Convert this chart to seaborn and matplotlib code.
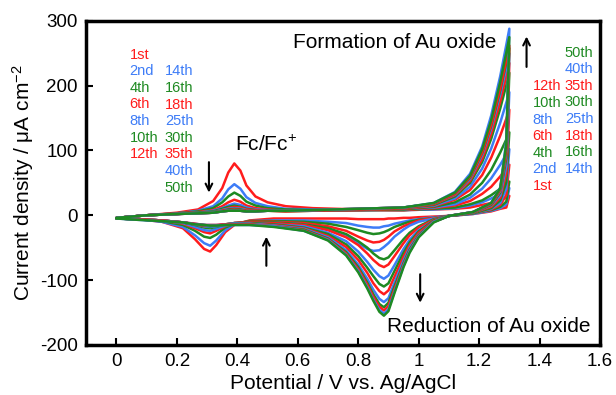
import pandas as pd
import seaborn as sns
import matplotlib.pyplot as plt

# potential grids (V vs. Ag/AgCl): anodic sweep 0 -> 1.3 V, cathodic sweep 1.3 -> 0 V
e_fwd = [0.00, 0.10, 0.20, 0.27, 0.32, 0.35, 0.37, 0.39, 0.41, 0.43, 0.46, 0.50,
         0.56, 0.65, 0.80, 0.95, 1.05, 1.12, 1.17, 1.21, 1.24, 1.27, 1.29, 1.30]
e_rev = [1.30, 1.29, 1.27, 1.24, 1.18, 1.10, 1.05, 1.00, 0.97, 0.95, 0.92, 0.90,
         0.885, 0.87, 0.85, 0.83, 0.80, 0.76, 0.70, 0.62, 0.52, 0.44, 0.39, 0.36,
         0.33, 0.31, 0.29, 0.26, 0.22, 0.15, 0.07, 0.00]

cycles = ["1st", "2nd", "4th", "6th", "8th", "10th", "12th", "14th",
          "16th", "18th", "25th", "30th", "35th", "40th", "50th"]

# current density (uA cm-2)
fwd_1st = [-4, 0, 4, 9, 22, 42, 66, 80, 69, 46, 29, 20, 14, 11, 9, 8, 9, 10, 12, 16, 19, 24, 28, 30]
fwd_2nd = [-4, 0, 3, 7, 14, 26, 40, 48, 41, 28, 19, 14, 10, 9, 8, 8, 9, 11, 15, 20, 26, 33, 39, 42]
fwd_4th = [-4, 0, 3, 6, 11, 20, 29, 35, 30, 21, 15, 11, 9, 8, 8, 8, 10, 12, 17, 23, 31, 41, 48, 52]
fwd_6th = [-4, 0, 3, 5, 8, 14, 20, 24, 21, 15, 11, 9, 7, 7, 8, 8, 11, 15, 22, 33, 44, 60, 72, 78]
fwd_8th = [-4, 0, 2, 4, 7, 11, 15, 18, 16, 12, 9, 8, 7, 7, 8, 9, 12, 17, 27, 41, 57, 78, 94, 102]
fwd_10th = [-4, 0, 2, 4, 6, 10, 13, 15, 13, 10, 8, 7, 6, 7, 8, 9, 13, 20, 32, 50, 70, 97, 117, 128]
fwd_12th = [-4, 0, 2, 4, 5, 8, 11, 13, 12, 9, 8, 7, 6, 7, 8, 10, 14, 24, 39, 62, 89, 123, 149, 163]
fwd_14th = [-4, 0, 2, 4, 5, 8, 10, 11, 10, 8, 7, 7, 7, 7, 9, 11, 15, 26, 44, 72, 103, 143, 174, 190]
fwd_16th = [-4, 0, 2, 4, 5, 7, 9, 10, 9, 7, 7, 7, 7, 7, 9, 11, 16, 29, 50, 82, 118, 165, 201, 220]
fwd_18th = [-4, 0, 2, 3, 4, 7, 8, 9, 8, 7, 7, 7, 7, 7, 9, 11, 17, 31, 53, 87, 126, 176, 215, 235]
fwd_25th = [-4, 0, 2, 3, 4, 6, 7, 8, 7, 6, 6, 7, 7, 8, 10, 12, 18, 32, 56, 93, 134, 187, 228, 250]
fwd_30th = [-4, 0, 2, 3, 4, 6, 7, 8, 7, 6, 6, 7, 7, 8, 10, 12, 18, 33, 58, 96, 138, 193, 236, 258]
fwd_35th = [-4, 0, 2, 3, 4, 6, 7, 7, 7, 6, 6, 7, 7, 8, 10, 12, 18, 33, 59, 97, 140, 196, 239, 262]
fwd_40th = [-4, 0, 2, 3, 4, 6, 7, 7, 7, 6, 6, 7, 7, 8, 10, 12, 19, 36, 64, 106, 154, 215, 263, 288]
fwd_50th = [-4, 0, 2, 3, 4, 6, 7, 7, 7, 6, 6, 7, 7, 8, 10, 12, 19, 35, 61, 102, 147, 206, 251, 275]

rev_1st = [30, 12, 10, 6, 2, -1, -2, -3, -4, -4, -5, -5, -6, -6, -6, -6, -6, -5, -5, -5, -5,
           -8, -15, -26, -46, -56, -52, -37, -20, -10, -6, -4]
rev_2nd = [42, 17, 11, 7, 2, -1, -3, -6, -8, -10, -13, -16, -17, -19, -19, -18, -16, -12, -10, -8, -8,
           -9, -14, -23, -39, -47, -43, -31, -18, -10, -6, -5]
rev_4th = [52, 21, 13, 8, 3, -1, -4, -7, -10, -13, -18, -23, -26, -28, -29, -27, -23, -18, -13, -10, -9,
           -9, -13, -19, -30, -35, -33, -24, -15, -9, -6, -5]
rev_6th = [78, 31, 16, 9, 3, -1, -4, -8, -13, -17, -25, -33, -38, -41, -42, -39, -33, -24, -17, -12, -10,
           -10, -12, -17, -24, -28, -26, -20, -13, -8, -6, -5]
rev_8th = [102, 41, 19, 10, 3, -1, -5, -10, -16, -22, -33, -43, -49, -54, -55, -52, -43, -31, -21, -14, -11,
           -11, -12, -16, -21, -24, -23, -18, -12, -8, -6, -5]
rev_10th = [128, 51, 23, 11, 3, -1, -6, -17, -27, -37, -54, -65, -68, -66, -59, -50, -40, -29, -20, -14, -11,
            -11, -12, -14, -18, -20, -19, -15, -11, -8, -6, -5]
rev_12th = [163, 65, 27, 13, 4, -1, -7, -19, -31, -43, -63, -76, -80, -77, -69, -59, -46, -34, -23, -15, -12,
            -11, -12, -14, -16, -18, -17, -14, -11, -8, -6, -5]
rev_14th = [190, 76, 31, 15, 4, -1, -8, -23, -38, -52, -77, -93, -98, -94, -84, -72, -56, -40, -27, -17, -14,
            -12, -13, -14, -17, -18, -17, -14, -11, -8, -6, -5]
rev_16th = [220, 88, 35, 16, 4, -1, -8, -25, -42, -58, -86, -105, -110, -106, -94, -81, -63, -45, -29, -19, -14,
            -12, -13, -14, -16, -17, -16, -14, -11, -8, -6, -5]
rev_18th = [235, 94, 37, 17, 4, -1, -9, -27, -46, -64, -95, -116, -122, -117, -105, -89, -69, -49, -32, -20, -15,
            -13, -14, -14, -16, -16, -16, -14, -11, -8, -6, -5]
rev_25th = [250, 100, 38, 18, 5, -1, -10, -30, -50, -70, -104, -128, -134, -129, -115, -98, -76, -54, -34, -21, -16,
            -13, -13, -14, -15, -15, -15, -13, -11, -8, -6, -5]
rev_30th = [258, 103, 40, 18, 5, -1, -10, -31, -53, -74, -110, -135, -142, -137, -122, -104, -80, -57, -36, -22, -17,
            -14, -14, -15, -16, -16, -15, -14, -11, -9, -6, -5]
rev_35th = [262, 105, 40, 18, 5, -1, -10, -32, -55, -76, -114, -140, -147, -141, -126, -107, -83, -59, -37, -23, -17,
            -14, -14, -14, -15, -15, -15, -13, -11, -8, -6, -5]
rev_40th = [288, 115, 43, 19, 5, -1, -10, -33, -56, -78, -118, -145, -152, -146, -130, -111, -86, -61, -38, -24, -17,
            -15, -15, -15, -16, -16, -15, -14, -11, -9, -7, -5]
rev_50th = [275, 110, 42, 19, 5, -1, -11, -34, -58, -80, -120, -148, -155, -149, -132, -113, -88, -62, -39, -24, -18,
            -15, -15, -15, -16, -16, -15, -14, -11, -9, -7, -5]

fwd = [fwd_1st, fwd_2nd, fwd_4th, fwd_6th, fwd_8th, fwd_10th, fwd_12th, fwd_14th,
       fwd_16th, fwd_18th, fwd_25th, fwd_30th, fwd_35th, fwd_40th, fwd_50th]
rev = [rev_1st, rev_2nd, rev_4th, rev_6th, rev_8th, rev_10th, rev_12th, rev_14th,
       rev_16th, rev_18th, rev_25th, rev_30th, rev_35th, rev_40th, rev_50th]

red, blue, green = "#ff1c1c", "#3d7cf7", "#1e8a22"
colors = [red, blue, green] * 5

frames = []
for name, f, r in zip(cycles, fwd, rev):
    frames.append(pd.DataFrame({"E": e_fwd + e_rev, "j": f + r, "cycle": name}))
df = pd.concat(frames, ignore_index=True)

sns.set_style("ticks")
plt.rcParams["font.family"] = ["Liberation Sans", "DejaVu Sans"]
plt.rcParams["mathtext.fontset"] = "custom"
plt.rcParams["mathtext.rm"] = "Liberation Sans"
plt.rcParams["mathtext.it"] = "Liberation Sans:italic"
plt.rcParams["axes.unicode_minus"] = False
for k in ["axes.edgecolor", "axes.labelcolor", "text.color", "xtick.color", "ytick.color"]:
    plt.rcParams[k] = "black"

fig = plt.figure(figsize=(6.16, 3.95), dpi=100)
ax = fig.add_axes([0.14, 0.127, 0.834, 0.82])

sns.lineplot(data=df, x="E", y="j", hue="cycle", hue_order=cycles, palette=colors,
             sort=False, estimator=None, legend=False, lw=1.8, ax=ax)

ax.set_xlim(-0.1, 1.6)
ax.set_ylim(-200, 300)
ax.set_xticks([0, 0.2, 0.4, 0.6, 0.8, 1.0, 1.2, 1.4, 1.6])
ax.set_xticklabels(["0", "0.2", "0.4", "0.6", "0.8", "1", "1.2", "1.4", "1.6"])
ax.set_yticks([-200, -100, 0, 100, 200, 300])
ax.tick_params(direction="in", length=5, width=1.5, labelsize=13.5, pad=6)
for s in ax.spines.values():
    s.set_linewidth(2.5)
ax.set_xlabel("Potential / V vs. Ag/AgCl", fontsize=15, labelpad=3)
ax.set_ylabel("Current density / μA cm$^{-2}$", fontsize=15, labelpad=3)

# cycle labels, left group
left_a = ["1st", "2nd", "4th", "6th", "8th", "10th", "12th"]
left_b = ["14th", "16th", "18th", "25th", "30th", "35th", "40th", "50th"]
for i, lab in enumerate(left_a):
    ax.text(0.043, 248 - 25.6 * i, lab, color=colors[cycles.index(lab)],
            fontsize=10.5, va="center", ha="left")
for i, lab in enumerate(left_b):
    ax.text(0.16, 222 - 25.6 * i, lab, color=colors[cycles.index(lab)],
            fontsize=10.5, va="center", ha="left")

# cycle labels, right group
right_a = ["12th", "10th", "8th", "6th", "4th", "2nd", "1st"]
right_b = ["50th", "40th", "35th", "30th", "25th", "18th", "16th", "14th"]
for i, lab in enumerate(right_a):
    ax.text(1.377, 199 - 25.6 * i, lab, color=colors[cycles.index(lab)],
            fontsize=10.5, va="center", ha="left")
for i, lab in enumerate(right_b):
    ax.text(1.484, 251 - 25.6 * i, lab, color=colors[cycles.index(lab)],
            fontsize=10.5, va="center", ha="left")

ax.text(1.257, 266, "Formation of Au oxide", fontsize=15, ha="right", va="center")
ax.text(0.393, 109, "Fc/Fc$^{+}$", fontsize=15, ha="left", va="center")
ax.text(1.57, -171, "Reduction of Au oxide", fontsize=15, ha="right", va="center")

arrow = dict(arrowstyle="->", lw=1.5, color="k", mutation_scale=12, shrinkA=0, shrinkB=0)
ax.annotate("", xy=(0.306, 35), xytext=(0.306, 82), arrowprops=arrow)
ax.annotate("", xy=(0.496, -33), xytext=(0.496, -78), arrowprops=arrow)
ax.annotate("", xy=(1.005, -135), xytext=(1.005, -91), arrowprops=arrow)
ax.annotate("", xy=(1.357, 276), xytext=(1.357, 229), arrowprops=arrow)

fig.savefig("out.png", dpi=100)
